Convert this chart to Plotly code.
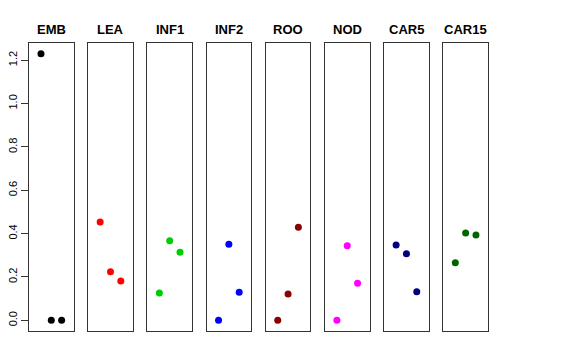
import plotly.graph_objects as go

categories = ["EMB", "LEA", "INF1", "INF2", "ROO", "NOD", "CAR5", "CAR15"]
colors = ["#000000", "#FF0000", "#00CD00", "#0000FF", "#8B0000", "#FF00FF", "#000080", "#006400"]
x_pos = [1, 2, 3]
values = {
    "EMB": [1.23, 0.0, 0.0],
    "LEA": [0.454, 0.224, 0.181],
    "INF1": [0.126, 0.367, 0.314],
    "INF2": [0.0, 0.351, 0.129],
    "ROO": [0.0, 0.121, 0.429],
    "NOD": [0.0, 0.344, 0.171],
    "CAR5": [0.347, 0.307, 0.132],
    "CAR15": [0.266, 0.403, 0.394],
}
y_ticks = [0.0, 0.2, 0.4, 0.6, 0.8, 1.0, 1.2]

W, H = 576, 360
off = 8.0  # page body margin in the browser
left0, step, pw = 29.0 - off, 59.19, 44.6
top_px, bot_px = 43.0 - off, 331.0 - off
title_px = 29.5 - off
yr = [-0.0492, 1.2792]
xr = [-0.16, 4.16]

fig = go.Figure()
layout = dict(width=W, height=H, margin=dict(l=0, r=0, t=0, b=0, pad=0, autoexpand=False),
              paper_bgcolor="white", plot_bgcolor="white", showlegend=False,
              font=dict(family="Liberation Sans, Arial, sans-serif", color="black"))
annotations = []
for i, cat in enumerate(categories):
    n = "" if i == 0 else str(i + 1)
    xa, ya = "x" + n, "y" + n
    fig.add_trace(go.Scatter(x=x_pos, y=values[cat], mode="markers",
                             marker=dict(color=colors[i], size=7, line=dict(width=0)),
                             xaxis=xa, yaxis=ya, hoverinfo="skip"))
    l = left0 + i * step
    layout["xaxis" + n] = dict(domain=[l / W, (l + pw) / W], range=xr, anchor=ya,
                               showgrid=False, zeroline=False, showticklabels=False,
                               automargin=False,
                               ticks="", showline=True, mirror=True, linecolor="#333", linewidth=1)
    ydict = dict(domain=[1 - bot_px / H, 1 - top_px / H], range=yr, anchor=xa,
                 showgrid=False, zeroline=False, showline=True, mirror=True,
                 automargin=False,
                 linecolor="#333", linewidth=1)
    if i == 0:
        ydict.update(tickvals=y_ticks, ticktext=["%.1f" % v for v in y_ticks],
                     ticks="outside", ticklen=7, tickcolor="#333", tickwidth=1,
                     tickangle=-90, tickfont=dict(size=11))
    else:
        ydict.update(showticklabels=False, ticks="")
    layout["yaxis" + n] = ydict
    annotations.append(dict(text="<b>%s</b>" % cat, x=(l + pw / 2) / W, y=1 - title_px / H,
                            xref="paper", yref="paper", xanchor="center", yanchor="middle",
                            showarrow=False, font=dict(size=13, color="black")))
layout["annotations"] = annotations
fig.update_layout(**layout)
fig.write_html("out.html")
